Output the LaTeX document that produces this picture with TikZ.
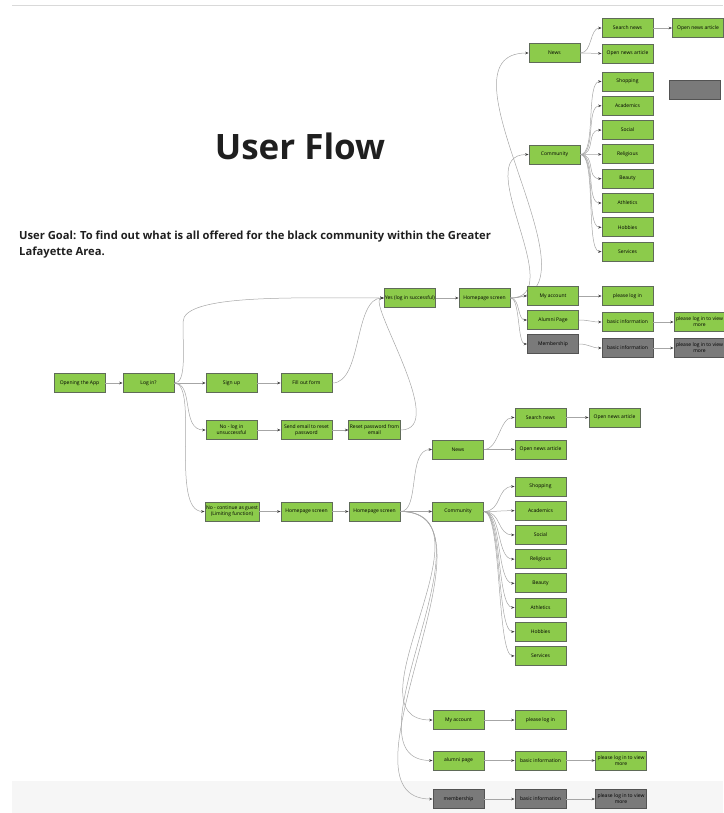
\documentclass[tikz,border=0pt]{standalone}
\usepackage{fontspec}
\setmainfont{Open Sans}
\usepackage{xcolor}
\usetikzlibrary{
    arrows.meta,
    shapes,
    positioning,
    calc
}
\definecolor{boxgreen}{HTML}{8CCB4B}
\definecolor{boxedge}{HTML}{5F6B58}
\definecolor{boxgrey}{HTML}{7A7A7A}
\definecolor{greyedge}{HTML}{535353}
\definecolor{wire}{HTML}{A6A6A6}
\definecolor{ink}{HTML}{1F1F1F}

\begin{document}
\begin{tikzpicture}[x=1pt, y=-1pt,
        box/.style={draw=boxedge, fill=boxgreen, line width=0.8pt, minimum width=51pt,
            minimum height=19pt, inner sep=1pt, align=center,
            font=\fontsize{5}{6}\selectfont},
        offbox/.style={box, draw=greyedge, fill=boxgrey},
        flow/.style={draw=wire, line width=0.5pt,
            -{Stealth[length=3.5pt, width=2.6pt, color=black!75]}}
    ]
    \useasboundingbox (0,0) rectangle (723,813);
    % page frame: rule on top, grey strip at the bottom
    \fill[gray!7] (12,781) rectangle (723,813);
    \draw[gray!30, line width=1pt] (12,6) -- (723,6);

    % headings
    \node (title) at (300,146) {\fontsize{35}{40}\selectfont\bfseries\color{ink} User Flow};
    \node[anchor=north west, align=left, inner sep=0pt, text=ink,
        font=\fontsize{11.2}{15.5}\selectfont\bfseries] (goal) at (19,231)
        {User Goal: To find out what is all offered for the black community within the Greater\\Lafayette Area.};

    % entry and log in
    \node[box] (open) at (79.5,383) {Opening the App};
    \node[box] (login) at (148.5,383) {Log in?};
    \node[box] (signup) at (231.5,383) {Sign up};
    \node[box] (form) at (306.5,383) {Fill out form};
    \node[box] (fail) at (231.5,430) {No - log in\\unsuccessful};
    \node[box] (email) at (306.5,430) {Send email to reset\\password};
    \node[box] (reset) at (374.5,430) {Reset password from\\email};
    \node[box] (guest) at (232,511.5) {No - continue as guest\\(Limiting function)};
    \node[box] (ghome) at (306.5,511.5) {Homepage screen};
    \node[box] (ghome2) at (374.5,511.5) {Homepage screen};

    \draw[flow] (open.east) -- (login.west);
    \draw[flow] (login.east) -- (signup.west);
    \draw[flow] (signup.east) -- (form.west);
    \draw[flow] (fail.east) -- (email.west);
    \draw[flow] (email.east) -- (reset.west);
    \draw[flow] (guest.east) -- (ghome.west);
    \draw[flow] (ghome.east) -- (ghome2.west);
    \draw[flow] (login.east) .. controls +(20,0) and +(-25,0) .. (fail.west);
    \draw[flow] (login.east) .. controls +(25,0) and +(-35,0) .. (guest.west);

    % signed in
    \node[box] (yes) at (410,298) {Yes (log in successful)};
    \node[box] (thome) at (484.5,298) {Homepage screen};
    \draw[flow] (login.east) .. controls +(12,0) and +(0,30) .. (183,322)
        .. controls +(0,-28) and +(-90,0) .. (yes.west);
    \draw[flow] (form.east) .. controls +(30,0) and +(-30,0) .. (yes.west);
    \draw[flow] (reset.east) .. controls +(50,0) and +(-20,0) .. (yes.west);
    \draw[flow] (yes.east) -- (thome.west);

    \node[box] (tnews) at (554.5,53) {News};
    \node[box] (tsearch) at (627.5,28) {Search news};
    \node[box] (topen) at (698,28) {Open news article};
    \node[box] (topen2) at (627.5,53.5) {Open news article};
    \node[offbox] (blank) at (695,89.5) {};
    \node[box] (tcomm) at (554.5,154.5) {Community};
    \draw[flow] (thome.east) .. controls +(100,0) and +(-100,0) .. (tnews.west);
    \draw[flow] (thome.east) .. controls +(60,0) and +(-60,0) .. (tcomm.west);
    \draw[flow] (tnews.east) .. controls +(12,0) and +(-12,0) .. (tsearch.west);
    \draw[flow] (tnews.east) -- (topen2.west);
    \draw[flow] (tsearch.east) -- (topen.west);
    \foreach \name [count=\i] in {Shopping,Academics,Social,Religious,Beauty,Athletics,Hobbies,Services}{
        \node[box] (tc\i) at (627.5,{81.5+24.3*(\i-1)}) {\name};
        \draw[flow] (tcomm.east) .. controls +(16,0) and +(-16,0) .. (tc\i.west);
    }

    \node[box] (tacct) at (553,296) {My account};
    \node[box] (tlogin) at (627.5,296) {please log in};
    \node[box] (talumni) at (553,320) {Alumni Page};
    \node[box] (tbasic) at (627.5,322) {basic information};
    \node[box] (tmore) at (699.5,322) {please log in to view\\more};
    \node[offbox] (tmember) at (553,344) {Membership};
    \node[offbox] (tbasicg) at (627.5,348) {basic information};
    \node[offbox] (tmoreg) at (699.5,348) {please log in to view\\more};
    \foreach \dest in {tacct,talumni,tmember}
        \draw[flow] (thome.east) .. controls +(10,0) and +(-10,0) .. (\dest.west);
    \draw[flow] (tacct.east) -- (tlogin.west);
    \draw[flow] (talumni.east) .. controls +(10,0) and +(-10,0) .. (tbasic.west);
    \draw[flow] (tbasic.east) -- (tmore.west);
    \draw[flow] (tmember.east) .. controls +(10,0) and +(-10,0) .. (tbasicg.west);
    \draw[flow] (tbasicg.east) -- (tmoreg.west);

    % guest homepage
    \node[box] (bnews) at (458,449.5) {News};
    \node[box] (bsearch) at (540.5,417.5) {Search news};
    \node[box] (bopen) at (614.5,417.5) {Open news article};
    \node[box] (bopen2) at (540.5,449.5) {Open news article};
    \node[box] (bcomm) at (458,511.5) {Community};
    \draw[flow] (ghome2.east) .. controls +(20,0) and +(-25,0) .. (bnews.west);
    \draw[flow] (ghome2.east) -- (bcomm.west);
    \draw[flow] (bnews.east) .. controls +(15,0) and +(-15,0) .. (bsearch.west);
    \draw[flow] (bnews.east) -- (bopen2.west);
    \draw[flow] (bsearch.east) -- (bopen.west);
    \foreach \name [count=\i] in {Shopping,Academics,Social,Religious,Beauty,Athletics,Hobbies,Services}{
        \node[box] (bc\i) at (540.5,{486.5+24.2*(\i-1)}) {\name};
        \draw[flow] (bcomm.east) .. controls +(18,0) and +(-18,0) .. (bc\i.west);
    }

    \node[box] (bacct) at (458.5,720) {My account};
    \node[box] (blogin) at (540.5,720) {please log in};
    \node[box] (balumni) at (458.5,760.5) {alumni page};
    \node[box] (bbasic) at (540.5,760.5) {basic information};
    \node[box] (bmore) at (621,760.5) {please log in to view\\more};
    \node[offbox] (bmember) at (458.5,799) {membership};
    \node[offbox] (bbasicg) at (540.5,799) {basic information};
    \node[offbox] (bmoreg) at (621,799) {please log in to view\\more};
    \draw[flow] (ghome2.east) .. controls +(100,0) and +(-90,0) .. (bacct.west);
    \draw[flow] (ghome2.east) .. controls +(105,0) and +(-95,0) .. (balumni.west);
    \draw[flow] (ghome2.east) .. controls +(110,0) and +(-105,0) .. (bmember.west);
    \draw[flow] (bacct.east) -- (blogin.west);
    \draw[flow] (balumni.east) -- (bbasic.west);
    \draw[flow] (bbasic.east) -- (bmore.west);
    \draw[flow] (bmember.east) -- (bbasicg.west);
    \draw[flow] (bbasicg.east) -- (bmoreg.west);
\end{tikzpicture}
\end{document}
